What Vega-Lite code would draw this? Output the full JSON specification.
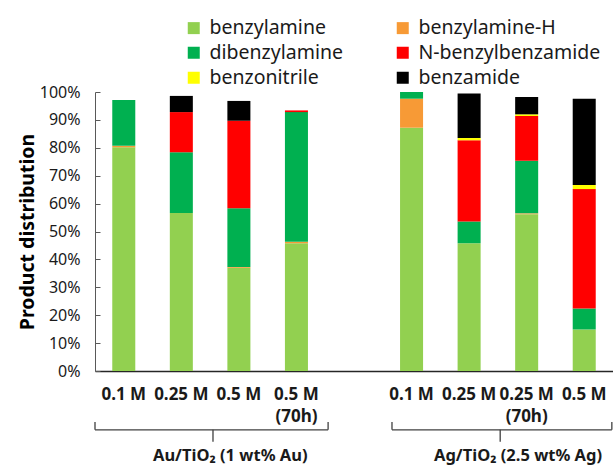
{
  "$schema": "https://vega.github.io/schema/vega-lite/v6.json",
  "width": 518,
  "height": 279,
  "autosize": {"type": "none"},
  "padding": {"left": 95, "top": 92, "right": 0, "bottom": 95},
  "config": {"view": {"stroke": null}, "font": "Noto Sans"},
  "datasets": {
    "products": [
      {"sample": "Au|0.1 M", "product": "benzylamine", "share": 0.802},
      {"sample": "Au|0.1 M", "product": "benzylamine-H", "share": 0.005},
      {"sample": "Au|0.1 M", "product": "dibenzylamine", "share": 0.164},
      {"sample": "Au|0.25 M", "product": "benzylamine", "share": 0.566},
      {"sample": "Au|0.25 M", "product": "dibenzylamine", "share": 0.218},
      {"sample": "Au|0.25 M", "product": "N-benzylbenzamide", "share": 0.144},
      {"sample": "Au|0.25 M", "product": "benzamide", "share": 0.058},
      {"sample": "Au|0.5 M", "product": "benzylamine", "share": 0.37},
      {"sample": "Au|0.5 M", "product": "benzylamine-H", "share": 0.003},
      {"sample": "Au|0.5 M", "product": "dibenzylamine", "share": 0.21},
      {"sample": "Au|0.5 M", "product": "N-benzylbenzamide", "share": 0.314},
      {"sample": "Au|0.5 M", "product": "benzamide", "share": 0.071},
      {"sample": "Au|0.5 M|(70h)", "product": "benzylamine", "share": 0.458},
      {"sample": "Au|0.5 M|(70h)", "product": "benzylamine-H", "share": 0.005},
      {"sample": "Au|0.5 M|(70h)", "product": "dibenzylamine", "share": 0.465},
      {"sample": "Au|0.5 M|(70h)", "product": "N-benzylbenzamide", "share": 0.006},
      {"sample": "Ag|0.1 M", "product": "benzylamine", "share": 0.872},
      {"sample": "Ag|0.1 M", "product": "benzylamine-H", "share": 0.104},
      {"sample": "Ag|0.1 M", "product": "dibenzylamine", "share": 0.024},
      {"sample": "Ag|0.25 M", "product": "benzylamine", "share": 0.458},
      {"sample": "Ag|0.25 M", "product": "dibenzylamine", "share": 0.078},
      {"sample": "Ag|0.25 M", "product": "N-benzylbenzamide", "share": 0.291},
      {"sample": "Ag|0.25 M", "product": "benzonitrile", "share": 0.008},
      {"sample": "Ag|0.25 M", "product": "benzamide", "share": 0.16},
      {"sample": "Ag|0.25 M|(70h)", "product": "benzylamine", "share": 0.562},
      {"sample": "Ag|0.25 M|(70h)", "product": "benzylamine-H", "share": 0.003},
      {"sample": "Ag|0.25 M|(70h)", "product": "dibenzylamine", "share": 0.189},
      {"sample": "Ag|0.25 M|(70h)", "product": "N-benzylbenzamide", "share": 0.16},
      {"sample": "Ag|0.25 M|(70h)", "product": "benzonitrile", "share": 0.006},
      {"sample": "Ag|0.25 M|(70h)", "product": "benzamide", "share": 0.062},
      {"sample": "Ag|0.5 M", "product": "benzylamine", "share": 0.149},
      {"sample": "Ag|0.5 M", "product": "dibenzylamine", "share": 0.075},
      {"sample": "Ag|0.5 M", "product": "N-benzylbenzamide", "share": 0.428},
      {"sample": "Ag|0.5 M", "product": "benzonitrile", "share": 0.015},
      {"sample": "Ag|0.5 M", "product": "benzamide", "share": 0.309}
    ],
    "braces": [
      {"x1": 0, "x2": 4.05, "y1": -0.211, "y2": -0.211},
      {"x1": 0, "x2": 0, "y1": -0.183, "y2": -0.211},
      {"x1": 4.05, "x2": 4.05, "y1": -0.183, "y2": -0.211},
      {"x1": 2.05, "x2": 2.05, "y1": -0.211, "y2": -0.254},
      {"x1": 5.16, "x2": 8.98, "y1": -0.211, "y2": -0.211},
      {"x1": 5.16, "x2": 5.16, "y1": -0.183, "y2": -0.211},
      {"x1": 8.98, "x2": 8.98, "y1": -0.183, "y2": -0.211},
      {"x1": 7.04, "x2": 7.04, "y1": -0.211, "y2": -0.254}
    ],
    "groups": [
      {"label": "Au/TiO₂ (1 wt% Au)", "x": 2.35, "y": -0.305},
      {"label": "Ag/TiO₂ (2.5 wt% Ag)", "x": 7.35, "y": -0.305}
    ]
  },
  "layer": [
    {
      "data": {"name": "products"},
      "transform": [
        {"calculate": "indexof(['benzylamine', 'benzylamine-H', 'dibenzylamine', 'N-benzylbenzamide', 'benzonitrile', 'benzamide'], datum.product)", "as": "stackRank"}
      ],
      "mark": {"type": "bar"},
      "encoding": {
        "x": {
          "field": "sample",
          "type": "nominal",
          "sort": null,
          "scale": {
            "domain": ["Au|0.1 M", "Au|0.25 M", "Au|0.5 M", "Au|0.5 M|(70h)", "gap", "Ag|0.1 M", "Ag|0.25 M", "Ag|0.25 M|(70h)", "Ag|0.5 M"],
            "paddingInner": 0.6,
            "paddingOuter": 0.3
          },
          "axis": {
            "title": null,
            "labelAngle": 0,
            "labelExpr": "slice(split(datum.label, '|'), 1)",
            "labelFontSize": 17,
            "labelFontWeight": "bold",
            "labelColor": "#1a1a1a",
            "labelLineHeight": 22,
            "labelPadding": 15,
            "labelOverlap": false,
            "ticks": false,
            "domainColor": "#262626",
            "domainWidth": 1.5
          }
        },
        "y": {
          "field": "share",
          "type": "quantitative",
          "stack": "zero",
          "scale": {"domain": [0, 1], "nice": false},
          "axis": {
            "title": "Product distribution",
            "titleFontSize": 19.5,
            "titleFontWeight": "bold",
            "titleColor": "#000000",
            "titlePadding": 2,
            "format": ".0%",
            "values": [0, 0.1, 0.2, 0.3, 0.4, 0.5, 0.6, 0.7, 0.8, 0.9, 1],
            "tickCount": 11,
            "labelFontSize": 16,
            "labelColor": "#1a1a1a",
            "labelPadding": 20,
            "labelOverlap": false,
            "labelFlush": false,
            "grid": false,
            "domainColor": "#595959",
            "tickColor": "#595959",
            "tickSize": -5
          }
        },
        "order": {"field": "stackRank", "type": "quantitative", "sort": "ascending"},
        "color": {
          "field": "product",
          "type": "nominal",
          "scale": {
            "domain": ["benzylamine", "benzylamine-H", "dibenzylamine", "N-benzylbenzamide", "benzonitrile", "benzamide"],
            "range": ["#92D050", "#F79A36", "#00B050", "#FF0000", "#FFFF00", "#000000"]
          },
          "legend": {
            "orient": "none",
            "legendX": 89,
            "legendY": -74,
            "columns": 2,
            "direction": "horizontal",
            "gridAlign": "all",
            "title": null,
            "symbolType": "square",
            "symbolSize": 144,
            "symbolStrokeWidth": 0,
            "labelFontSize": 19.5,
            "labelColor": "#1a1a1a",
            "labelOffset": 6,
            "labelLimit": 400,
            "columnPadding": 1,
            "rowPadding": 4,
            "padding": 0
          }
        }
      }
    },
    {
      "data": {"name": "braces"},
      "mark": {"type": "rule", "color": "#404040", "strokeWidth": 1.3},
      "encoding": {
        "x": {"field": "x1", "type": "quantitative", "scale": {"domain": [0, 9], "nice": false, "zero": false}, "axis": null},
        "x2": {"field": "x2"},
        "y": {
          "field": "y1",
          "type": "quantitative",
          "scale": {"domain": [0, 1], "nice": false},
          "axis": {
            "title": "Product distribution",
            "format": ".0%",
            "values": [0, 0.1, 0.2, 0.3, 0.4, 0.5, 0.6, 0.7, 0.8, 0.9, 1],
            "tickCount": 11,
            "labelOverlap": false
          }
        },
        "y2": {"field": "y2"}
      }
    },
    {
      "data": {"name": "groups"},
      "mark": {"type": "text", "fontWeight": "bold", "fontSize": 16.5, "color": "#1a1a1a", "baseline": "middle"},
      "encoding": {
        "x": {"field": "x", "type": "quantitative", "scale": {"domain": [0, 9], "nice": false, "zero": false}, "axis": null},
        "y": {
          "field": "y",
          "type": "quantitative",
          "scale": {"domain": [0, 1], "nice": false},
          "axis": {
            "title": "Product distribution",
            "format": ".0%",
            "values": [0, 0.1, 0.2, 0.3, 0.4, 0.5, 0.6, 0.7, 0.8, 0.9, 1],
            "tickCount": 11,
            "labelOverlap": false
          }
        },
        "text": {"field": "label"}
      }
    }
  ],
  "resolve": {"scale": {"x": "independent"}}
}
